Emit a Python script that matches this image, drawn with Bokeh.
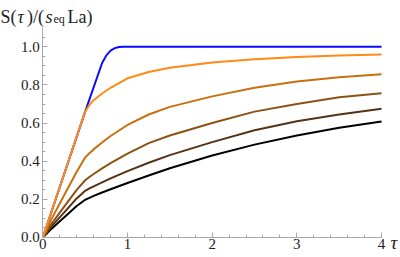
from bokeh.plotting import figure
from bokeh.models import Range1d, FixedTicker, PrintfTickFormatter, Label
from bokeh.embed import file_html
from bokeh.resources import INLINE

# data
tau = [0, 0.1, 0.25, 0.4, 0.5, 0.55, 0.6, 0.7, 0.8, 1.0, 1.25, 1.5, 2.0, 2.5, 3.0, 3.5, 4.0]
s_orange = [0, 0.133, 0.33, 0.53, 0.66, 0.695, 0.72, 0.755, 0.785, 0.835, 0.868, 0.89, 0.918, 0.935, 0.946, 0.954, 0.96]
s_dark1 = [0, 0.095, 0.22, 0.345, 0.42, 0.442, 0.462, 0.498, 0.532, 0.59, 0.645, 0.685, 0.74, 0.785, 0.818, 0.84, 0.856]
s_dark2 = [0, 0.07, 0.16, 0.25, 0.30, 0.317, 0.333, 0.362, 0.39, 0.44, 0.495, 0.535, 0.60, 0.66, 0.70, 0.735, 0.757]
s_dark3 = [0, 0.057, 0.13, 0.205, 0.245, 0.257, 0.268, 0.289, 0.31, 0.348, 0.392, 0.432, 0.50, 0.562, 0.61, 0.645, 0.675]
s_black = [0, 0.045, 0.105, 0.165, 0.198, 0.208, 0.218, 0.236, 0.253, 0.286, 0.325, 0.363, 0.43, 0.487, 0.535, 0.575, 0.608]

tau_blue = [0, 0.5, 0.7, 0.75, 0.8, 0.85, 0.9, 0.95, 4.0]
s_blue = [0, 0.66, 0.915, 0.955, 0.98, 0.993, 0.999, 1.0, 1.0]

x_ticks = [0, 1, 2, 3, 4]
x_minor = [i * 0.2 for i in range(21)]
y_ticks = [0.0, 0.2, 0.4, 0.6, 0.8, 1.0]
y_minor = [i * 0.05 for i in range(22)]

series = [
    (s_black, "#000000"),
    (s_dark3, "#553214"),
    (s_dark2, "#8c5214"),
    (s_dark1, "#c8700f"),
]

FONT = "Liberation Serif"
W, H = 400, 257

# frame covers the whole canvas; axes are drawn at fixed locations (x=0, y=0)
p = figure(width=W, height=H, output_backend="svg", toolbar_location=None,
           x_range=Range1d(-0.5, 4.224), y_range=Range1d(-0.105, 1.2428),
           min_border=0)
p.outline_line_color = None
p.xgrid.visible = False
p.ygrid.visible = False
p.background_fill_color = "white"
p.border_fill_color = "white"

p.line(tau_blue, s_blue, line_color="#0a0aff", line_width=2)
for ys, col in series:
    p.line(tau, ys, line_color=col, line_width=2)
p.line(tau, s_orange, line_color="#ff8a14", line_width=2)

for ax in (p.xaxis[0], p.yaxis[0]):
    ax.fixed_location = 0
    ax.axis_line_color = "#a8a8a8"
    ax.major_tick_line_color = "#a8a8a8"
    ax.minor_tick_line_color = "#a8a8a8"
    ax.major_tick_in = 5
    ax.major_tick_out = 0
    ax.minor_tick_in = 3
    ax.minor_tick_out = 0
    ax.major_label_text_font = FONT
    ax.major_label_text_font_size = "15px"
    ax.major_label_text_color = "#222222"

p.xaxis.bounds = (0, 4)
p.yaxis.bounds = (0, 1.1)
p.xaxis.ticker = FixedTicker(ticks=x_ticks, minor_ticks=x_minor)
p.yaxis.ticker = FixedTicker(ticks=y_ticks, minor_ticks=y_minor)
p.xaxis.formatter = PrintfTickFormatter(format="%d")
p.yaxis.formatter = PrintfTickFormatter(format="%.1f")
p.xaxis.major_label_standoff = 2
p.yaxis.major_label_standoff = 3

# x-axis label tau at the right end of the axis (screen units from bottom-left)
p.add_layout(Label(x=390, y=H - 242, x_units="screen", y_units="screen", text="τ",
                   text_font=FONT, text_font_style="italic", text_font_size="19px",
                   text_baseline="alphabetic", text_color="#222222"))

# y label: S(τ)/(s_eq La) built from pieces
base = H - 16.5
pieces = [
    ("S(", 0, base, "normal", "18px"),
    ("τ", 17, base, "italic", "18px"),
    (")/(", 26.5, base, "normal", "18px"),
    ("s", 45, base, "italic", "18px"),
    ("eq", 53, base - 2, "normal", "12px"),
    ("La)", 67, base, "normal", "18px"),
]
for txt, xs, ys, style, size in pieces:
    p.add_layout(Label(x=xs, y=ys, x_units="screen", y_units="screen", text=txt,
                       text_font=FONT, text_font_style=style, text_font_size=size,
                       text_baseline="alphabetic", text_color="#222222"))

open("out.html", "w").write(file_html(p, INLINE))
